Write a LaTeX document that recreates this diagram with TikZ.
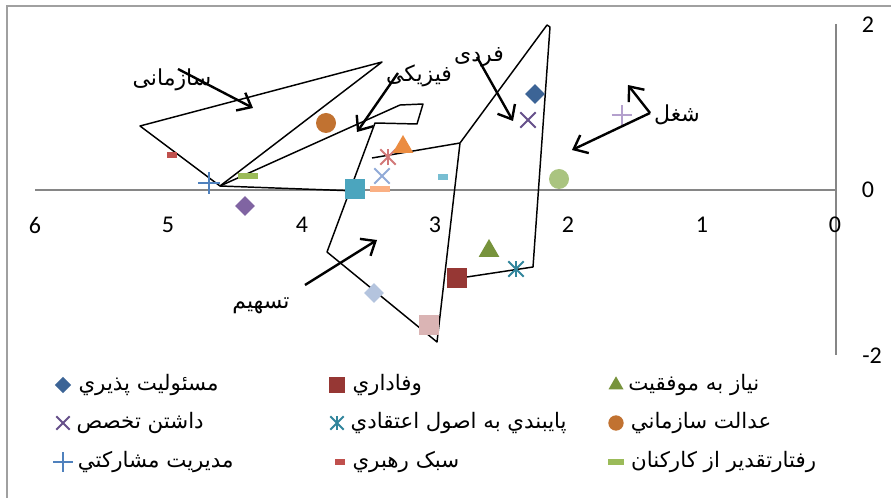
\documentclass[tikz,border=0pt]{standalone}
\usepackage{fontspec}
\setmainfont{Carlito}
\newfontfamily\arabicfont[Script=Arabic]{DejaVu Sans}
\TeXXeTstate=1
\usepackage{tikz}
\usetikzlibrary{shapes.geometric, shapes.misc, arrows.meta}
\usetikzlibrary{positioning}

\definecolor{cresp}{RGB}{60,100,150}
\definecolor{cloyal}{RGB}{150,55,52}
\definecolor{cneed}{RGB}{119,147,60}
\definecolor{cexpert}{RGB}{102,80,138}
\definecolor{cbelief}{RGB}{49,133,156}
\definecolor{cjustice}{RGB}{193,114,49}
\definecolor{cpart}{RGB}{79,129,189}
\definecolor{clead}{RGB}{192,80,77}
\definecolor{cpraise}{RGB}{155,187,89}
\definecolor{cpurple}{RGB}{128,100,162}
\definecolor{cteal}{RGB}{75,165,190}
\definecolor{corange}{RGB}{235,140,65}
\definecolor{cpaleblue}{RGB}{180,196,222}
\definecolor{cpink}{RGB}{218,180,180}
\definecolor{cpalegreen}{RGB}{170,196,128}
\definecolor{clilac}{RGB}{180,160,205}
\definecolor{ccyan}{RGB}{120,190,210}
\definecolor{cskyx}{RGB}{145,170,215}
\definecolor{crose}{RGB}{210,120,120}
\definecolor{cpeach}{RGB}{250,176,132}
\definecolor{caxis}{RGB}{134,134,134}
\definecolor{cframe}{RGB}{160,160,160}

\tikzstyle{frame} = [draw=cframe, line width=1.2pt]
\tikzstyle{axis} = [draw=caxis, line width=1.1pt]
\tikzstyle{ticklabel} = [font=\fontsize{18}{20}\selectfont, inner sep=0pt]
\tikzstyle{outline} = [draw=black, line width=1.1pt, line join=round]
\tikzstyle{arrow} = [line width=1.8pt, -{Straight Barb[length=9pt, width=15pt]}]
\tikzstyle{tag} = [font=\arabicfont\fontsize{16.5}{18}\selectfont, inner sep=0pt, text height=12pt, text depth=4pt]
\tikzstyle{legtext} = [font=\arabicfont\fontsize{16}{18}\selectfont, inner sep=0pt, text height=12pt, text depth=4pt]
\tikzstyle{mdiamond} = [diamond, minimum size=15pt, inner sep=0pt]
\tikzstyle{msquare} = [rectangle, minimum size=15pt, inner sep=0pt]
\tikzstyle{mcircle} = [circle, minimum size=15pt, inner sep=0pt]
\tikzstyle{mtriangle} = [regular polygon, regular polygon sides=3, minimum size=18pt, inner sep=0pt]
\tikzstyle{mcross} = [cross out, minimum size=10pt, inner sep=0pt, line width=1.5pt]
\tikzstyle{mplus} = [cross out, rotate=45, minimum size=10pt, inner sep=0pt, line width=1.5pt]
\tikzstyle{mdash} = [rectangle, minimum width=15pt, minimum height=3.8pt, inner sep=0pt]
\tikzstyle{mshortdash} = [rectangle, minimum width=8pt, minimum height=3.8pt, inner sep=0pt]

\begin{document}
\begin{tikzpicture}[x=0.75pt, y=-0.75pt]
        \useasboundingbox (0,0) rectangle (891,498);

        % Frame and axes
        \draw [frame] (7,498) -- (7,6) -- (891,6);
        \draw [axis] (35,190) -- (836,190);
        \draw [axis] (836,24) -- (836,355);

        \node (x6) [ticklabel] at (35,225) {6};
        \node (x5) [ticklabel] at (168,225) {5};
        \node (x4) [ticklabel] at (302,225) {4};
        \node (x3) [ticklabel] at (435,225) {3};
        \node (x2) [ticklabel] at (568,225) {2};
        \node (x1) [ticklabel] at (702,225) {1};
        \node (x0) [ticklabel] at (835,225) {0};
        \node (y2) [ticklabel] at (868,25) {2};
        \node (y0) [ticklabel] at (868,190) {0};
        \node (ym2) [ticklabel] at (872,356) {-2};

        % Outlines
        \draw [outline] (220,186) -- (140,126) -- (382,62) -- cycle;
        \draw [outline] (220,186) -- (357,191);
        \draw [outline] (220,186) -- (400,105) -- (423,104) -- (417,124) -- (375,123)
                -- (327,252) -- (437,342) -- (460,143) -- (372,158);
        \draw [outline] (460,143) -- (547,25) -- (550,27) -- (533,267) -- (447,280);

        % Points
        \node (resp) [mdiamond, fill=cresp] at (535,94) {};
        \node (expert) [mcross, draw=cexpert] at (528,120) {};
        \node (lilac) [mplus, draw=clilac, line width=1pt] at (622,115) {};
        \node (palegreen) [mcircle, fill=cpalegreen] at (559,179) {};
        \node (cyan) [mshortdash, fill=ccyan] at (443,177) {};
        \node (need) [mtriangle, fill=cneed] at (489,251) {};
        \node (belief) [mcross, draw=cbelief] at (516,269) {};
        \draw [draw=cbelief, line width=1.5pt] (belief.north) -- (belief.south);
        \node (loyal) [msquare, fill=cloyal] at (457,278) {};
        \node (pink) [msquare, fill=cpink] at (429,325) {};
        \node (paleblue) [mdiamond, fill=cpaleblue] at (374,293) {};
        \node (teal) [msquare, fill=cteal] at (355,189) {};
        \node (peach) [mdash, fill=cpeach] at (380,189) {};
        \node (skyx) [mcross, draw=cskyx] at (382,176) {};
        \node (rose) [mcross, draw=crose] at (388,157) {};
        \draw [draw=crose, line width=1.5pt] (rose.north) -- (rose.south);
        \node (orange) [mtriangle, fill=corange] at (403,147) {};
        \node (justice) [mcircle, fill=cjustice] at (326,123) {};
        \node (lead) [mshortdash, fill=clead] at (172,155) {};
        \node (part) [mplus, draw=cpart] at (209,183) {};
        \node (praise) [mdash, fill=cpraise] at (248,176) {};
        \node (purple) [mdiamond, fill=cpurple] at (245,206) {};

        % Tags
        \node (torg) [tag] at (172,80) {\beginR سازمانی\endR};
        \node (tphys) [tag] at (419,76) {\beginR فیزیکی\endR};
        \node (tindiv) [tag] at (479,56) {\beginR فردی\endR};
        \node (tjob) [tag] at (677,116) {\beginR شغل\endR};
        \node (tshare) [tag] at (261,303) {\beginR تسهیم\endR};

        % Arrows
        \coordinate (org1) at (178,69);
        \coordinate (org2) at (253,108);
        \coordinate (phys1) at (398,73);
        \coordinate (phys2) at (357,132);
        \coordinate (indiv1) at (477,57);
        \coordinate (indiv2) at (513,121);
        \coordinate (job0) at (650,113);
        \coordinate (job1) at (572,150);
        \coordinate (job2) at (628,85);
        \coordinate (share1) at (305,285);
        \coordinate (share2) at (377,240);
        \draw [arrow] (org1) -- (org2);
        \draw [arrow] (phys1) -- (phys2);
        \draw [arrow] (indiv1) -- (indiv2);
        \draw [arrow] (job0) -- (job1);
        \draw [arrow] (job0) -- (job2);
        \draw [arrow] (share1) -- (share2);

        % Legend
        \node (lresp) [mdiamond, minimum size=12.5pt, fill=cresp] at (63,385) {};
        \node (lexpert) [mcross, minimum size=8.5pt, draw=cexpert] at (63,423) {};
        \node (lpart) [mplus, minimum size=9pt, draw=cpart] at (63,462) {};
        \node (lloyal) [msquare, minimum size=12.5pt, fill=cloyal] at (337,385) {};
        \node (lbelief) [mcross, minimum size=8.5pt, draw=cbelief] at (337,423) {};
        \draw [draw=cbelief, line width=1.5pt] (lbelief.north) -- (lbelief.south);
        \node (llead) [mshortdash, fill=clead] at (340,462) {};
        \node (lneed) [mtriangle, minimum size=13pt, fill=cneed] at (616,385) {};
        \node (ljustice) [mcircle, minimum size=11.5pt, fill=cjustice] at (616,423) {};
        \node (lpraise) [mdash, minimum width=12pt, fill=cpraise] at (616,462) {};

        \node (tresp) [legtext, right=5pt of lresp] {\beginR مسئولیت پذیري\endR};
        \node (texpert) [legtext, right=5pt of lexpert] {\beginR داشتن تخصص\endR};
        \node (tpart) [legtext, right=11pt of lpart.center] {\beginR مدیریت مشارکتي\endR};
        \node (tloyal) [legtext, right=5pt of lloyal] {\beginR وفاداري\endR};
        \node (tbelief) [legtext, right=5pt of lbelief] {\beginR پایبندي به اصول اعتقادي\endR};
        \node (tlead) [legtext, right=5pt of llead] {\beginR سبک رهبري\endR};
        \node (tneed) [legtext, right=5pt of lneed] {\beginR نیاز به موفقیت\endR};
        \node (tjustice) [legtext, right=5pt of ljustice] {\beginR عدالت سازماني\endR};
        \node (tpraise) [legtext, right=5pt of lpraise] {\beginR رفتارتقدیر از کارکنان\endR};

    \end{tikzpicture}
\end{document}
